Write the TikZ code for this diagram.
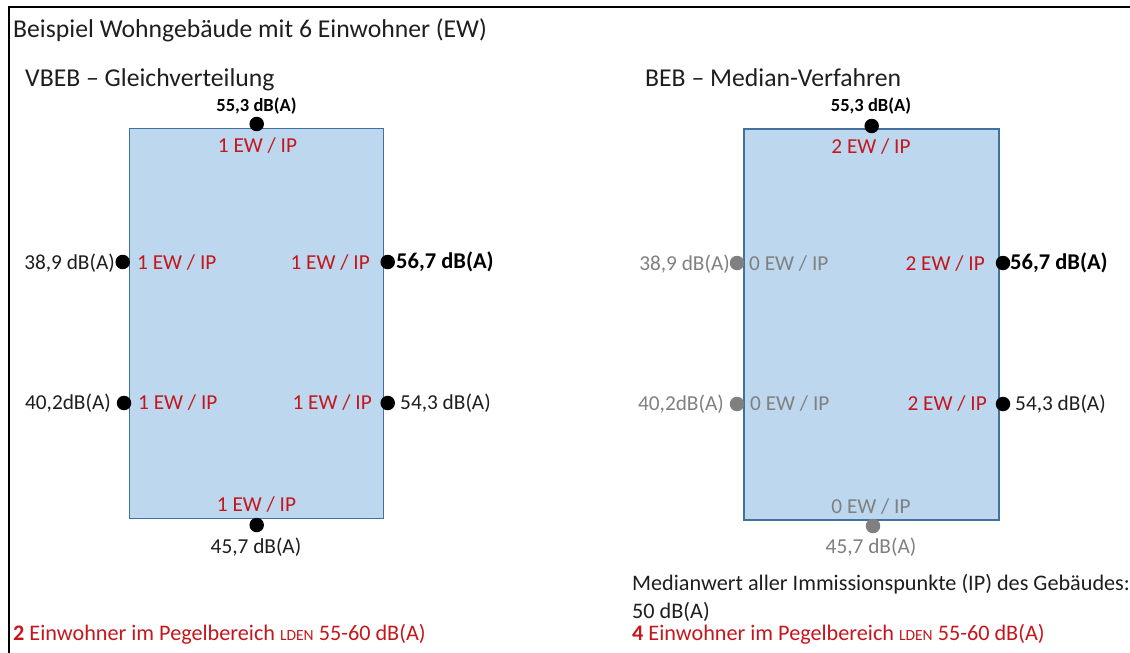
\documentclass[tikz,border=0pt]{standalone}
\usepackage{fontspec}
\setmainfont{Carlito}
\definecolor{boxfill}{HTML}{BDD7EE}
\definecolor{boxline}{HTML}{41719C}
\definecolor{ewred}{HTML}{C4161C}
\definecolor{txt}{HTML}{1E1E1E}
\definecolor{gtxt}{HTML}{808080}
\tikzset{
  lbl/.style={inner sep=0pt, text=txt, font=\fontsize{21.3}{25}\selectfont},
  blbl/.style={inner sep=0pt, text=black, font=\fontsize{22.5}{26}\selectfont\bfseries},
  tlbl/.style={inner sep=0pt, text=black, font=\fontsize{18.5}{22}\selectfont\bfseries},
  ew/.style={inner sep=0pt, text=ewred, font=\fontsize{21.3}{25}\selectfont},
  glbl/.style={inner sep=0pt, text=gtxt, font=\fontsize{21.3}{25}\selectfont},
  head/.style={inner sep=0pt, text=txt, font=\fontsize{25.7}{30}\selectfont},
  foot/.style={inner sep=0pt, text=txt, font=\fontsize{22.2}{26}\selectfont},
  redfoot/.style={inner sep=0pt, text=ewred, font=\fontsize{22.2}{26}\selectfont},
  ipdot/.style={circle, fill=black, minimum size=14.5pt, inner sep=0pt},
  gipdot/.style={circle, fill=gtxt, minimum size=14.5pt, inner sep=0pt},
  house/.style={draw=boxline, fill=boxfill, line width=1.6pt, inner sep=0pt},
}
\newcommand{\lden}{{\fontsize{15.5}{15.5}\selectfont LDEN}}
\begin{document}
\begin{tikzpicture}[x=1pt, y=-1pt]
\useasboundingbox (0,0) rectangle (1130,653);
\draw[line width=2pt] (9,653) -- (9,7) -- (1130,7);

\node[head, anchor=base west] (title) at (13,37) {Beispiel Wohngebäude mit 6 Einwohner (EW)};
\node[head, anchor=base west] (ltitle) at (25,86.5) {VBEB – Gleichverteilung};
\node[head, anchor=base west] (rtitle) at (645,86.5) {BEB – Median-Verfahren};

% ---------- left building
\node[house, minimum width=254pt, minimum height=390pt] (Lb) at (256.3,323.3) {};
\node[ipdot] (Ltd) at (256.7,124) {};
\node[tlbl, anchor=base] (Ltl) at (256.5,111) {55,3 dB(A)};
\node[ew, anchor=base] (Lte) at (257.5,152.3) {1 EW / IP};

\node[ipdot] (Lwu) at (122.7,262) {};
\node[lbl, anchor=base east] (Lwul) at (115,269) {38,9 dB(A)};
\node[ew, anchor=base west] (Lwue) at (137,269) {1 EW / IP};

\node[ipdot] (Leu) at (387.7,262) {};
\node[ew, anchor=base east] (Leue) at (370,269) {1 EW / IP};
\node[blbl, anchor=base west] (Leul) at (396,268.3) {56,7 dB(A)};

\node[ipdot] (Lwl) at (124,403) {};
\node[lbl, anchor=base east] (Lwll) at (111,409) {40,2dB(A)};
\node[ew, anchor=base west] (Lwle) at (138,409) {1 EW / IP};

\node[ipdot] (Lel) at (387.7,403) {};
\node[ew, anchor=base east] (Lele) at (372,409) {1 EW / IP};
\node[lbl, anchor=base west] (Lell) at (400,409) {54,3 dB(A)};

\node[ew, anchor=base] (Lbe) at (256.5,511.7) {1 EW / IP};
\node[ipdot] (Lbd) at (256.7,525) {};
\node[lbl, anchor=base] (Lbl) at (256,553) {45,7 dB(A)};

% ---------- right building
\node[house, minimum width=255pt, minimum height=391pt] (Rb) at (871.5,324.5) {};
\node[ipdot] (Rtd) at (871.7,126) {};
\node[tlbl, anchor=base] (Rtl) at (871,111.7) {55,3 dB(A)};
\node[ew, anchor=base] (Rte) at (871,153) {2 EW / IP};

\node[gipdot] (Rwu) at (737,263) {};
\node[glbl, anchor=base east] (Rwul) at (730,270) {38,9 dB(A)};
\node[glbl, anchor=base west] (Rwue) at (749,270) {0 EW / IP};

\node[ipdot] (Reu) at (1003,263) {};
\node[ew, anchor=base east] (Reue) at (985,270) {2 EW / IP};
\node[blbl, anchor=base west] (Reul) at (1010,269) {56,7 dB(A)};

\node[gipdot] (Rwl) at (737,404) {};
\node[glbl, anchor=base east] (Rwll) at (724,410) {40,2dB(A)};
\node[glbl, anchor=base west] (Rwle) at (750,410) {0 EW / IP};

\node[ipdot] (Rel) at (1003,404) {};
\node[ew, anchor=base east] (Rele) at (987,410) {2 EW / IP};
\node[lbl, anchor=base west] (Rell) at (1015,410) {54,3 dB(A)};

\node[glbl, anchor=base] (Rbe) at (871,513) {0 EW / IP};
\node[gipdot] (Rbd) at (873,526) {};
\node[glbl, anchor=base] (Rbl) at (871,553) {45,7 dB(A)};

% ---------- footnotes
\node[foot, anchor=base west] (med1) at (632,590) {Medianwert aller Immissionspunkte (IP) des Gebäudes:};
\node[foot, anchor=base west] (med2) at (632,618) {50 dB(A)};
\node[redfoot, anchor=base west] (rres) at (632,640) {\textbf{4} Einwohner im Pegelbereich \lden{} 55-60 dB(A)};
\node[redfoot, anchor=base west] (lres) at (13,640) {\textbf{2} Einwohner im Pegelbereich \lden{} 55-60 dB(A)};
\end{tikzpicture}
\end{document}
